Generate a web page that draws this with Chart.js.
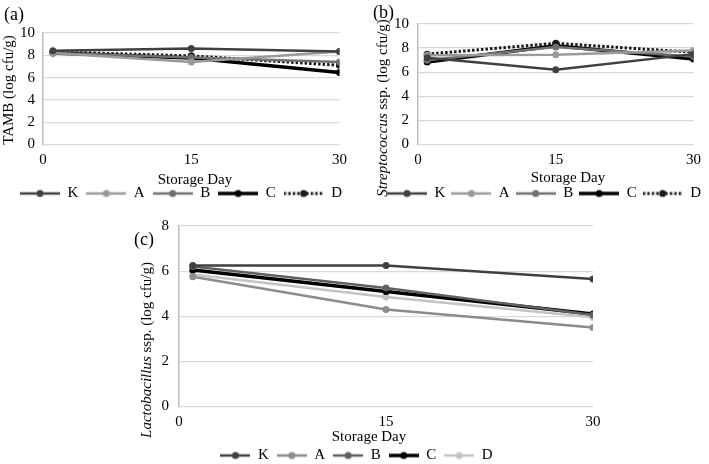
<!DOCTYPE html>
<html>
<head>
<meta charset="utf-8">
<script src="https://cdn.jsdelivr.net/npm/chart.js@4.4.1/dist/chart.umd.min.js"></script>
<style>
body{margin:0;background:#fff;width:709px;height:464px;position:relative;overflow:hidden}
canvas{position:absolute}
#chartA{left:0;top:0}
#chartB{left:355px;top:0}
#chartC{left:120px;top:205px}
</style>
</head>
<body>
<canvas id="chartA" width="355" height="211"></canvas>
<canvas id="chartB" width="354" height="211"></canvas>
<canvas id="chartC" width="589" height="268"></canvas>
<script>
// storage days and tick labels
const days = [1, 15, 30];
const xTicks = [0, 15, 30];
const groups = ['K', 'A', 'B', 'C', 'D'];
const yTicksA = [0, 2, 4, 6, 8, 10];
const yTicksB = [0, 2, 4, 6, 8, 10];
const yTicksC = [0, 2, 4, 6, 8];

// (a) TAMB
const tambK = [8.4, 8.6, 8.35];
const tambA = [8.2, 7.4, 8.35];
const tambB = [8.2, 7.8, 7.4];
const tambC = [8.2, 7.75, 6.45];
const tambD = [8.3, 7.95, 7.1];

// (b) Streptococcus
const strepK = [7.2, 6.2, 7.5];
const strepA = [7.4, 7.45, 7.8];
const strepB = [7.0, 8.1, 7.3];
const strepC = [6.85, 8.2, 7.1];
const strepD = [7.5, 8.4, 7.65];

// (c) Lactobacillus
const lactoK = [6.25, 6.25, 5.65];
const lactoA = [5.75, 4.3, 3.5];
const lactoB = [6.2, 5.25, 4.05];
const lactoC = [6.05, 5.1, 4.1];
const lactoD = [5.85, 4.85, 3.95];

const styleAB = [
    {color:'#404040', width:2.5},
    {color:'#9a9a9a', width:2.5},
    {color:'#707070', width:2.5},
    {color:'#000000', width:3.5},
    {color:'#1a1a1a', width:3, dash:[2.5,2]}
];
const styleC = [
    {color:'#404040', width:2.5},
    {color:'#8c8c8c', width:2.5},
    {color:'#606060', width:2.5},
    {color:'#000000', width:3.5},
    {color:'#c4c4c4', width:2.5}
];

Chart.defaults.font.family = '"Liberation Serif", serif';
Chart.defaults.font.size = 15;
Chart.defaults.color = '#000';

function legendIcon(st, w){
    const cv = document.createElement('canvas');
    cv.width = w; cv.height = 10;
    const c = cv.getContext('2d');
    c.strokeStyle = st.color; c.lineWidth = st.width;
    c.setLineDash(st.dash || []);
    c.beginPath(); c.moveTo(0,5); c.lineTo(w,5); c.stroke();
    c.setLineDash([]);
    c.fillStyle = st.color;
    c.beginPath(); c.arc(w/2,5,3.5,0,Math.PI*2); c.fill();
    return cv;
}

// panel tag, axis titles (mixed italic) and legend nudge
const panelText = {
    id:'panelText',
    afterLayout(chart, args, o){
        chart.legend.left += o.legendDx; chart.legend.right += o.legendDx;
    },
    afterDraw(chart, args, o){
        const c = chart.ctx;
        c.save();
        c.fillStyle = '#000';
        c.textBaseline = 'middle';
        c.textAlign = 'left';
        c.font = '18px "Liberation Serif"';
        c.fillText(o.tag, o.tagX, o.tagY);
        c.textAlign = 'center';
        c.font = '15px "Liberation Serif"';
        c.fillText('Storage Day', o.xtX, o.xtY);
        c.translate(o.ytX, o.ytY);
        c.rotate(-Math.PI/2);
        c.textAlign = 'left';
        const fonts = o.ytParts.map(p => (p.italic ? 'italic ' : '') + '15px "Liberation Serif"');
        const widths = o.ytParts.map((p,i) => { c.font = fonts[i]; return c.measureText(p.text).width; });
        let x = -widths.reduce((a,b) => a+b, 0) / 2;
        o.ytParts.forEach((p,i) => { c.font = fonts[i]; c.fillText(p.text, x, 0); x += widths[i]; });
        c.restore();
    }
};

function drawPanel(id, series, styles, yTicks, p){
    const ctx = document.getElementById(id).getContext('2d');
    return new Chart(ctx, {
        type:'line',
        data:{datasets: groups.map((g,i) => ({
            label:g,
            data: days.map((d,j) => ({x:d, y:series[i][j]})),
            borderColor:styles[i].color, backgroundColor:styles[i].color,
            pointBackgroundColor:styles[i].color, pointBorderWidth:0,
            borderWidth:styles[i].width, borderDash:styles[i].dash || [],
            pointRadius:3.5, pointHoverRadius:3.5, tension:0
        }))},
        options:{
            responsive:false, animation:false, events:[],
            layout:{padding:{top:p.top, right:p.right, left:0, bottom:0}},
            scales:{
                x:{type:'linear', min:0, max:30,
                    afterBuildTicks:s => { s.ticks = xTicks.map(v => ({value:v})); },
                    afterFit:s => { s.height = p.xHeight; },
                    grid:{display:false, drawTicks:false},
                    border:{display:false},
                    ticks:{padding:8, font:{size:15, lineHeight:1}}},
                y:{min:0, max:yTicks[yTicks.length-1],
                    afterBuildTicks:s => { s.ticks = yTicks.map(v => ({value:v})); },
                    afterFit:s => { s.width = p.yWidth; },
                    grid:{color:'#d9d9d9', lineWidth:1.2, drawTicks:false},
                    border:{display:true, color:'#bdbdbd', width:1.5},
                    ticks:{padding:p.tickPad, font:{size:15, lineHeight:1}}}
            },
            plugins:{
                tooltip:{enabled:false},
                legend:{position:'bottom', labels:{
                    usePointStyle:true, pointStyleWidth:p.box, padding:p.legPad,
                    font:{size:15},
                    generateLabels:chart => chart.data.datasets.map((ds,i) => ({
                        text:ds.label, pointStyle:legendIcon(styles[i], p.box),
                        fontColor:'#000', lineWidth:0, strokeStyle:'rgba(0,0,0,0)',
                        fillStyle:'rgba(0,0,0,0)', hidden:false, datasetIndex:i
                    }))
                }},
                panelText:p.text
            }
        },
        plugins:[panelText]
    });
}

drawPanel('chartA', [tambK, tambA, tambB, tambC, tambD], styleAB, yTicksA,
    {top:33, right:8, xHeight:33.5, yWidth:43, tickPad:8, box:40, legPad:8,
     text:{tag:'(a)', tagX:4, tagY:15, xtX:195, xtY:180, ytX:9, ytY:90, legendDx:7.5,
           ytParts:[{text:'TAMB (log cfu/g)'}]}});

drawPanel('chartB', [strepK, strepA, strepB, strepC, strepD], styleAB, yTicksB,
    {top:24, right:6, xHeight:35.5, yWidth:63, tickPad:9, box:40, legPad:6,
     text:{tag:'(b)', tagX:18, tagY:13.5, xtX:213, xtY:178, ytX:28, ytY:108, legendDx:15,
           ytParts:[{text:'Streptococcus', italic:true}, {text:' ssp. (log cfu/g)'}]}});

drawPanel('chartC', [lactoK, lactoA, lactoB, lactoC, lactoD], styleC, yTicksC,
    {top:21, right:116, xHeight:33.5, yWidth:59, tickPad:10, box:30, legPad:8,
     text:{tag:'(c)', tagX:14, tagY:35, xtX:249, xtY:232, ytX:27, ytY:145, legendDx:0,
           ytParts:[{text:'Lactobacillus', italic:true}, {text:' ssp. (log cfu/g)'}]}});
</script>
</body>
</html>
